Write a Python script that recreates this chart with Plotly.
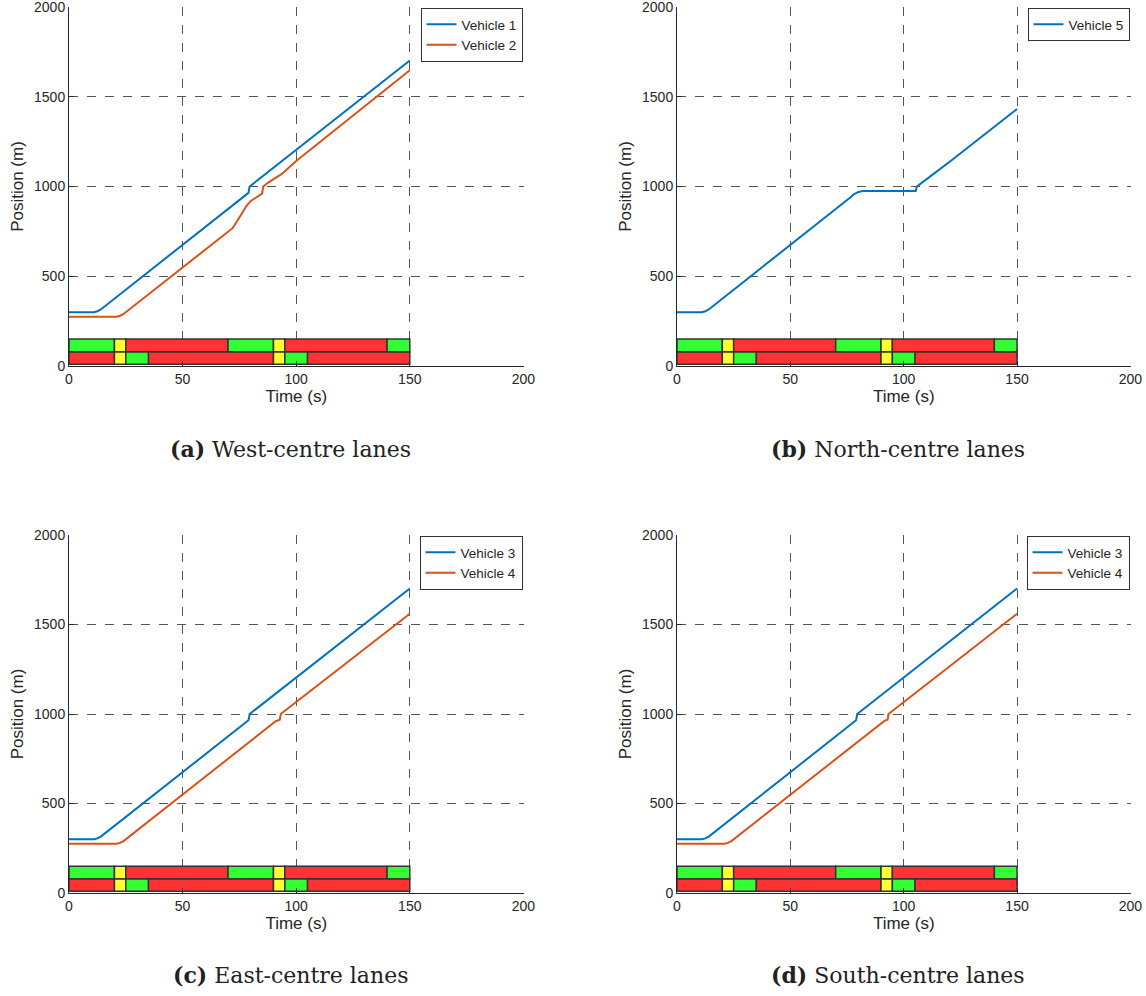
import plotly.graph_objects as go

# ---- signal phase plan (same for every approach) ----
upper_start = [0, 20, 25, 70, 90, 95, 140]
upper_end = [20, 25, 70, 90, 95, 140, 150]
upper_phase = ["g", "y", "r", "g", "y", "r", "g"]
lower_start = [0, 20, 25, 35, 90, 95, 105]
lower_end = [20, 25, 35, 90, 95, 105, 150]
lower_phase = ["r", "y", "g", "r", "y", "g", "r"]
upper_row = [78, 150]
lower_row = [10, 78]

# ---- (a) West-centre lanes ----
a_v1_t = [0, 11, 12.5, 14, 79, 79.5, 150]
a_v1_p = [300, 300, 305, 315, 965, 1000, 1702]
a_v2_t = [0, 21, 22.5, 24, 70, 72, 75, 78, 80, 85, 85.5, 88, 93.5, 100, 150]
a_v2_p = [275, 275, 280, 290, 748, 768, 828, 890, 920, 960, 1000, 1025, 1069, 1142, 1648]

# ---- (b) North-centre lanes ----
b_v5_t = [0, 11, 12.5, 14, 76, 78, 80, 82, 105.3, 105.8, 110, 121, 150]
b_v5_p = [300, 300, 305, 315, 935, 957, 970, 975, 975, 1000, 1040, 1145, 1432]

# ---- (c) East-centre lanes ----
c_v3_t = [0, 11, 12.5, 14, 79, 79.5, 150]
c_v3_p = [300, 300, 305, 315, 965, 1000, 1702]
c_v4_t = [0, 21, 22.5, 24, 91, 92.8, 93.2, 150]
c_v4_p = [275, 275, 280, 290, 960, 968, 1000, 1560]

# ---- (d) South-centre lanes ----
d_v3_t = [0, 11, 12.5, 14, 79, 79.5, 150]
d_v3_p = [300, 300, 305, 315, 965, 1000, 1702]
d_v4_t = [0, 21, 22.5, 24, 91.5, 92.9, 93.3, 150]
d_v4_p = [275, 275, 280, 290, 962, 968, 1000, 1560]

x_ticks = [0, 50, 100, 150, 200]
y_ticks = [0, 500, 1000, 1500, 2000]

captions = [("(a)", "West-centre lanes"), ("(b)", "North-centre lanes"),
            ("(c)", "East-centre lanes"), ("(d)", "South-centre lanes")]

BLUE = "#0072BD"
ORANGE = "#D95319"
PHASE_COLOR = {"g": "#33ff33", "y": "#ffff33", "r": "#ff3333"}
TXT = "#262626"
SANS = "Liberation Sans, Arial, sans-serif"
W, H = 1146, 996

# panel boxes in pixels: (left, right, top, bottom)
panels = [(69, 523.5, 7, 366), (677, 1130.5, 7, 366),
          (69, 523.5, 535, 893), (677, 1130.5, 535, 893)]
caption_y = [449, 449, 975, 975]

series = [
    [(a_v1_t, a_v1_p, "Vehicle 1", BLUE), (a_v2_t, a_v2_p, "Vehicle 2", ORANGE)],
    [(b_v5_t, b_v5_p, "Vehicle 5", BLUE)],
    [(c_v3_t, c_v3_p, "Vehicle 3", BLUE), (c_v4_t, c_v4_p, "Vehicle 4", ORANGE)],
    [(d_v3_t, d_v3_p, "Vehicle 3", BLUE), (d_v4_t, d_v4_p, "Vehicle 4", ORANGE)],
]

fig = go.Figure()
layout = {}
annotations = []

for i, (l, r, t, b) in enumerate(panels):
    n = "" if i == 0 else str(i + 1)
    xa, ya = "x" + n, "y" + n
    lg = "legend" + n

    # signal timing bars
    for starts, ends, phases, row in [(upper_start, upper_end, upper_phase, upper_row),
                                      (lower_start, lower_end, lower_phase, lower_row)]:
        fig.add_trace(go.Bar(
            orientation="h",
            y=[(row[0] + row[1]) / 2] * len(starts),
            x=[e - s for s, e in zip(starts, ends)],
            base=starts,
            width=row[1] - row[0],
            marker=dict(color=[PHASE_COLOR[p] for p in phases],
                        line=dict(color="#333333", width=1.5)),
            showlegend=False, hoverinfo="skip",
            xaxis=xa, yaxis=ya,
        ))

    for tt, pp, name, col in series[i]:
        fig.add_trace(go.Scatter(
            x=tt, y=pp, mode="lines", name=name,
            line=dict(color=col, width=2),
            xaxis=xa, yaxis=ya, legend=lg,
        ))

    axis_common = dict(
        showline=True, linecolor=TXT, linewidth=1, automargin=False,
        ticks="inside", ticklen=5, tickcolor=TXT, ticklabeloverflow="allow",
        showgrid=True, gridcolor="#555555", griddash="dash", gridwidth=1,
        zeroline=False, tickfont=dict(family=SANS, size=14, color=TXT),
        title_font=dict(family=SANS, size=17, color=TXT),
    )
    layout["xaxis" + n] = dict(
        axis_common, domain=[l / W, r / W], anchor=ya, range=[0, 200.05],
        tickvals=x_ticks, title=dict(text="Time (s)", standoff=2),
    )
    layout["yaxis" + n] = dict(
        axis_common, domain=[1 - b / H, 1 - t / H], anchor=xa, range=[0, 2000.5],
        tickvals=y_ticks, title=dict(text="Position (m)", standoff=6),
    )
    layout[lg] = dict(
        x=(r - 1) / W, y=1 - (t + 1) / H, xanchor="right", yanchor="top",
        bgcolor="white", bordercolor="#333333", borderwidth=1,
        font=dict(family=SANS, size=13.5, color=TXT),
        tracegroupgap=0, itemwidth=30,
    )

    tag, text = captions[i]
    annotations.append(dict(
        x=((l + r) / 2 - 6) / W, y=1 - caption_y[i] / H,
        xref="paper", yref="paper", xanchor="center", yanchor="middle",
        text=f"<b>{tag}</b> {text}", showarrow=False,
        font=dict(family="DejaVu Serif", size=22, color="#222222"),
    ))

fig.update_layout(
    width=W, height=H, margin=dict(l=0, r=0, t=0, b=0, autoexpand=False),
    paper_bgcolor="white", plot_bgcolor="white",
    barmode="overlay", annotations=annotations, **layout,
)

fig.write_html("out.html")
